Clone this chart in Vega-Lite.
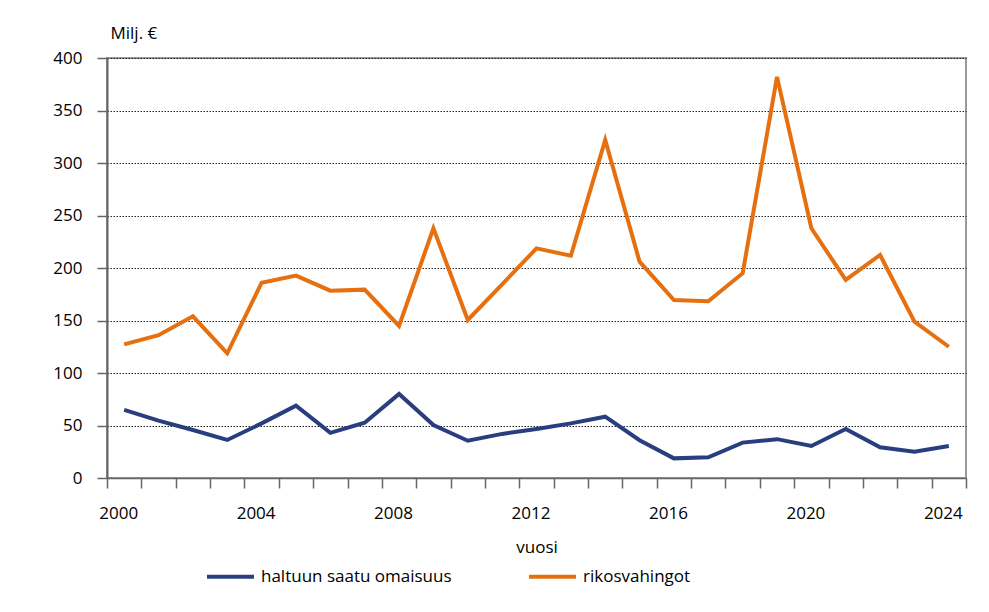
{
  "$schema": "https://vega.github.io/schema/vega-lite/v6.json",
  "width": 859,
  "height": 420,
  "autosize": {"type": "none"},
  "padding": {"left": 107, "top": 58, "right": 23, "bottom": 134},
  "background": "white",
  "config": {
    "font": "Open Sans",
    "view": {"stroke": "#9a9a9a", "strokeWidth": 2},
    "axis": {"labelColor": "#000", "titleColor": "#000", "labelFontSize": 17, "titleFontSize": 17, "titleFontWeight": "normal"},
    "legend": {"labelColor": "#000", "labelFontSize": 17}
  },
  "data": {
    "values": [
      {"vuosi": 2000, "sarja": "haltuun saatu omaisuus", "arvo": 64.8},
      {"vuosi": 2001, "sarja": "haltuun saatu omaisuus", "arvo": 54.6},
      {"vuosi": 2002, "sarja": "haltuun saatu omaisuus", "arvo": 45.7},
      {"vuosi": 2003, "sarja": "haltuun saatu omaisuus", "arvo": 36.2},
      {"vuosi": 2004, "sarja": "haltuun saatu omaisuus", "arvo": 52},
      {"vuosi": 2005, "sarja": "haltuun saatu omaisuus", "arvo": 68.9},
      {"vuosi": 2006, "sarja": "haltuun saatu omaisuus", "arvo": 43},
      {"vuosi": 2007, "sarja": "haltuun saatu omaisuus", "arvo": 52.7},
      {"vuosi": 2008, "sarja": "haltuun saatu omaisuus", "arvo": 80},
      {"vuosi": 2009, "sarja": "haltuun saatu omaisuus", "arvo": 50.5},
      {"vuosi": 2010, "sarja": "haltuun saatu omaisuus", "arvo": 35.5},
      {"vuosi": 2011, "sarja": "haltuun saatu omaisuus", "arvo": 42},
      {"vuosi": 2012, "sarja": "haltuun saatu omaisuus", "arvo": 46.7},
      {"vuosi": 2013, "sarja": "haltuun saatu omaisuus", "arvo": 52},
      {"vuosi": 2014, "sarja": "haltuun saatu omaisuus", "arvo": 58.4},
      {"vuosi": 2015, "sarja": "haltuun saatu omaisuus", "arvo": 36},
      {"vuosi": 2016, "sarja": "haltuun saatu omaisuus", "arvo": 18.7},
      {"vuosi": 2017, "sarja": "haltuun saatu omaisuus", "arvo": 19.7},
      {"vuosi": 2018, "sarja": "haltuun saatu omaisuus", "arvo": 33.7},
      {"vuosi": 2019, "sarja": "haltuun saatu omaisuus", "arvo": 37},
      {"vuosi": 2020, "sarja": "haltuun saatu omaisuus", "arvo": 30.5},
      {"vuosi": 2021, "sarja": "haltuun saatu omaisuus", "arvo": 46.7},
      {"vuosi": 2022, "sarja": "haltuun saatu omaisuus", "arvo": 29.2},
      {"vuosi": 2023, "sarja": "haltuun saatu omaisuus", "arvo": 25},
      {"vuosi": 2024, "sarja": "haltuun saatu omaisuus", "arvo": 30.5},
      {"vuosi": 2000, "sarja": "rikosvahingot", "arvo": 127.3},
      {"vuosi": 2001, "sarja": "rikosvahingot", "arvo": 136},
      {"vuosi": 2002, "sarja": "rikosvahingot", "arvo": 154},
      {"vuosi": 2003, "sarja": "rikosvahingot", "arvo": 118.7},
      {"vuosi": 2004, "sarja": "rikosvahingot", "arvo": 186},
      {"vuosi": 2005, "sarja": "rikosvahingot", "arvo": 192.7},
      {"vuosi": 2006, "sarja": "rikosvahingot", "arvo": 178.4},
      {"vuosi": 2007, "sarja": "rikosvahingot", "arvo": 179.4},
      {"vuosi": 2008, "sarja": "rikosvahingot", "arvo": 144.8},
      {"vuosi": 2009, "sarja": "rikosvahingot", "arvo": 237.8},
      {"vuosi": 2010, "sarja": "rikosvahingot", "arvo": 150.5},
      {"vuosi": 2011, "sarja": "rikosvahingot", "arvo": 184.5},
      {"vuosi": 2012, "sarja": "rikosvahingot", "arvo": 218.7},
      {"vuosi": 2013, "sarja": "rikosvahingot", "arvo": 211.7},
      {"vuosi": 2014, "sarja": "rikosvahingot", "arvo": 322},
      {"vuosi": 2015, "sarja": "rikosvahingot", "arvo": 206},
      {"vuosi": 2016, "sarja": "rikosvahingot", "arvo": 169.5},
      {"vuosi": 2017, "sarja": "rikosvahingot", "arvo": 168.3},
      {"vuosi": 2018, "sarja": "rikosvahingot", "arvo": 195},
      {"vuosi": 2019, "sarja": "rikosvahingot", "arvo": 382},
      {"vuosi": 2020, "sarja": "rikosvahingot", "arvo": 237.8},
      {"vuosi": 2021, "sarja": "rikosvahingot", "arvo": 188.6},
      {"vuosi": 2022, "sarja": "rikosvahingot", "arvo": 212.4},
      {"vuosi": 2023, "sarja": "rikosvahingot", "arvo": 148.9},
      {"vuosi": 2024, "sarja": "rikosvahingot", "arvo": 125}
    ]
  },
  "mark": {"type": "line", "strokeWidth": 4, "strokeJoin": "miter"},
  "encoding": {
    "x": {
      "field": "vuosi",
      "type": "ordinal",
      "bandPosition": 0.5,
      "scale": {"type": "band", "paddingInner": 0, "paddingOuter": 0},
      "axis": {
        "title": "vuosi",
        "labelAngle": 0,
        "labelExpr": "datum.value % 4 == 0 ? datum.label : ''",
        "labelOverlap": false,
        "labelBound": false,
        "labelOffset": -6,
        "labelPadding": 17,
        "tickBand": "extent",
        "grid": false,
        "domainColor": "#666666",
        "domainWidth": 1.5,
        "tickColor": "#666666",
        "tickWidth": 1.5,
        "tickSize": 10,
        "titlePadding": 18
      }
    },
    "y": {
      "field": "arvo",
      "type": "quantitative",
      "scale": {"domain": [0, 400], "nice": false},
      "axis": {
        "title": "Milj. €",
        "titleAngle": 0,
        "titleAlign": "left",
        "titleBaseline": "middle",
        "titleX": 3,
        "titleY": -25,
        "values": [0, 50, 100, 150, 200, 250, 300, 350, 400],
        "grid": true,
        "gridColor": "#222222",
        "gridDash": [1.5, 1.5],
        "gridWidth": 1,
        "domainColor": "#666666",
        "domainWidth": 2,
        "tickColor": "#666666",
        "tickWidth": 1.5,
        "tickSize": 10,
        "labelPadding": 15
      }
    },
    "color": {
      "field": "sarja",
      "type": "nominal",
      "scale": {"domain": ["haltuun saatu omaisuus", "rikosvahingot"], "range": ["#283e7e", "#e6700f"]},
      "legend": {
        "title": null,
        "orient": "none",
        "direction": "horizontal",
        "legendX": 98,
        "legendY": 493,
        "symbolType": "stroke",
        "symbolStrokeWidth": 4,
        "symbolSize": 2209,
        "labelOffset": 5,
        "labelLimit": 400,
        "columnPadding": 69
      }
    }
  }
}
